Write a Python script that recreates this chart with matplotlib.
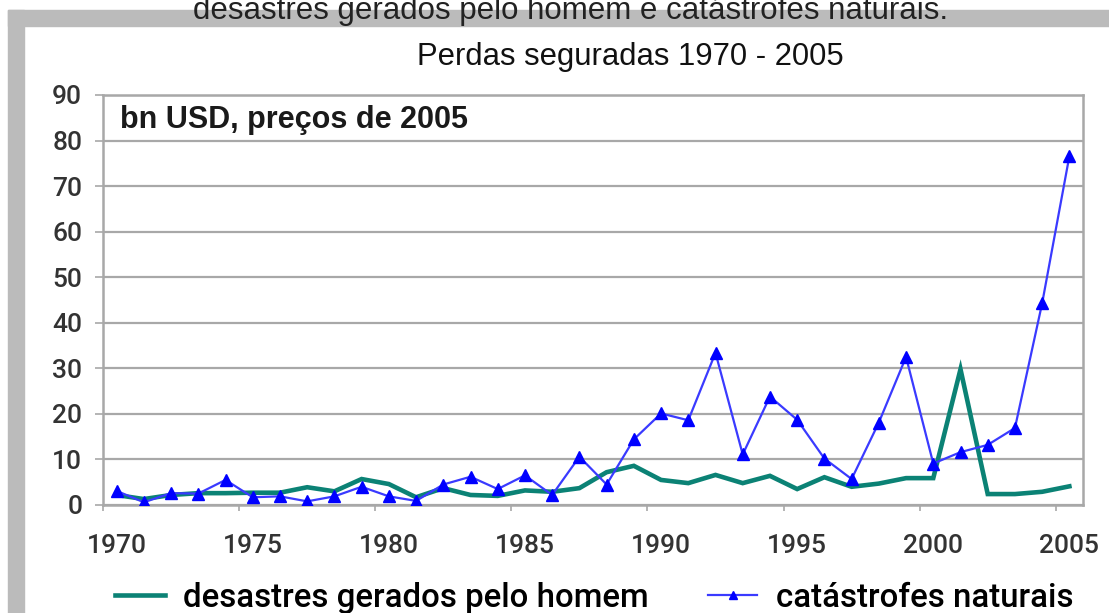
import matplotlib
matplotlib.use("Agg")
import matplotlib.pyplot as plt
from matplotlib.patches import Rectangle
from matplotlib.lines import Line2D

plt.rcParams['font.family'] = ['Liberation Sans', 'DejaVu Sans']

# data (bn USD, 2005 prices)
years = list(range(1970, 2006))
man_made = [2.2, 1.3, 2.2, 2.6, 2.6, 2.7, 2.7, 3.9, 3.0, 5.7,
            4.6, 1.7, 3.7, 2.2, 2.0, 3.2, 2.9, 3.7, 7.2, 8.6,
            5.5, 4.8, 6.6, 4.8, 6.4, 3.5, 6.1, 4.0, 4.7, 5.9,
            5.9, 29.8, 2.4, 2.4, 2.9, 4.1]
natural = [3.1, 0.6, 2.6, 2.5, 5.5, 1.7, 1.9, 0.8, 1.9, 4.0,
           1.9, 0.9, 4.5, 6.2, 3.5, 6.5, 2.2, 10.6, 4.5, 14.4,
           20.1, 18.6, 33.4, 11.1, 23.8, 18.7, 10.2, 5.7, 18.1, 32.5,
           9.1, 11.6, 13.2, 16.9, 44.3, 76.6]
xtick_years = [1970, 1975, 1980, 1985, 1990, 1995, 2000, 2005]
yticks = [0, 10, 20, 30, 40, 50, 60, 70, 80, 90]

W, H = 1109, 613
fig = plt.figure(figsize=(W / 100, H / 100), dpi=100)
fig.patch.set_facecolor("white")

roboto = ['Roboto', 'DejaVu Sans']

# grey frame of the screenshot
gray = "#bbbbbb"
fig.patches.append(Rectangle((8 / W, 1 - 26 / H), 1 - 8 / W, 16 / H,
                             transform=fig.transFigure, color=gray, zorder=0))
fig.patches.append(Rectangle((8 / W, 0), 16 / W, 1 - 10 / H,
                             transform=fig.transFigure, color=gray, zorder=0))

# caption of the page above the chart (cut at the top, as in the screenshot)
fig.text(571 / W, 1 - 19 / H, "desastres gerados pelo homem e catástrofes naturais.",
         ha="center", va="baseline", fontsize=22.5, color="#222222")
fig.text(630 / W, 1 - 57 / H, "Perdas seguradas 1970 - 2005",
         ha="center", va="center", fontsize=22.3, color="#111111")

ax = fig.add_axes([103 / W, 1 - 505 / H, 980 / W, 410 / H])
ax.set_facecolor("white")

ax.plot(years, man_made, color="#0b8275", linewidth=3.3, solid_joinstyle="miter",
        label="desastres gerados pelo homem", zorder=3)
ax.plot(years, natural, color="#3a3aff", linewidth=1.6, marker="^", markersize=9,
        markerfacecolor="#0000ff", markeredgecolor="#0000ff",
        label="catástrofes naturais", zorder=4)

ax.set_xlim(1969.5, 2005.5)
ax.set_ylim(0, 90)
ax.set_yticks(yticks)
ax.yaxis.grid(True, color="#a8a8a8", linewidth=1.6)
ax.set_axisbelow(True)

ax.set_xticks(xtick_years)
ax.set_xticks([y - 0.5 for y in xtick_years], minor=True)
ax.tick_params(axis="x", which="major", length=0, pad=21, labelcolor="#333333")
ax.tick_params(axis="x", which="minor", length=4, width=1.2, color="#a8a8a8", direction="out")
ax.tick_params(axis="y", length=6, width=1.2, color="#a8a8a8", pad=9, labelcolor="#333333")
for lbl in ax.get_xticklabels() + ax.get_yticklabels():
    lbl.set_fontfamily(roboto)
    lbl.set_fontweight("medium")
    lbl.set_fontsize(19)

for s in ax.spines.values():
    s.set_color("#a8a8a8")
    s.set_linewidth(1.8)

ax.text(0.017, 0.94, "bn USD, preços de 2005", transform=ax.transAxes,
        ha="left", va="center", fontsize=22, fontweight="bold", color="#1a1a1a")

handles = [Line2D([], [], color="#0b8275", linewidth=3.3),
           Line2D([], [], color="#3a3aff", linewidth=1.6, marker="^", markersize=6,
                  markerfacecolor="#0000ff", markeredgecolor="#0000ff")]
fig.legend(handles, ["desastres gerados pelo homem", "catástrofes naturais"],
           loc="center", bbox_to_anchor=(594 / W, 1 - 598 / H), ncol=2, frameon=False,
           handlelength=1.5, handletextpad=0.55, columnspacing=1.8,
           prop={"family": roboto, "size": 23.8, "weight": "medium"})

fig.savefig("out.png", dpi=100, facecolor="white")
